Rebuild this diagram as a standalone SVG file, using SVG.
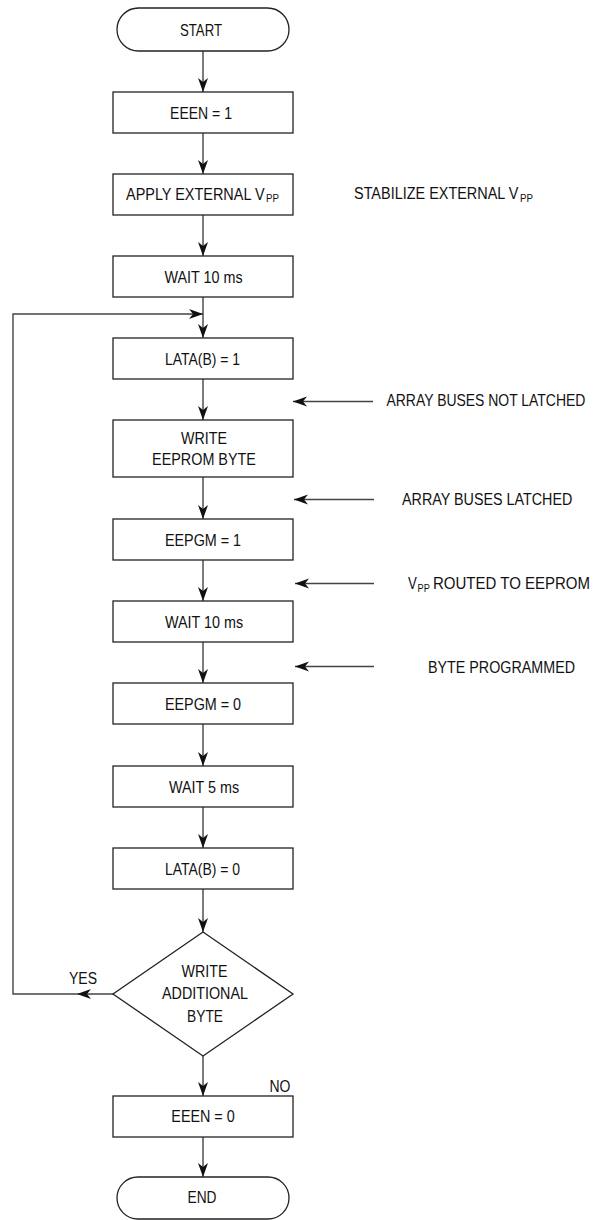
<svg xmlns="http://www.w3.org/2000/svg" width="594" height="1220" viewBox="0 0 594 1220">
<style>
.box{fill:#fff;stroke:#222;stroke-width:1.3}
.ln{fill:none;stroke:#444;stroke-width:1.4}
.t{font-family:"Liberation Sans",Arial,sans-serif;font-size:16.5px;fill:#111}
.m{text-anchor:middle}
.s{font-family:"Liberation Sans",Arial,sans-serif;font-size:11.5px;fill:#111}
</style>
<defs>
<marker id="ah" viewBox="-14 -6 15 12" markerWidth="15" markerHeight="12" refX="0" refY="0" markerUnits="userSpaceOnUse" orient="auto">
<path d="M0,0 L-14,-5 L-10,0 L-14,5 Z" fill="#111"/>
</marker>
</defs>
<rect width="594" height="1220" fill="#fff"/>

<g id="connectors">
<line class="ln" x1="203" y1="51" x2="203" y2="92" marker-end="url(#ah)"/>
<line class="ln" x1="203" y1="133" x2="203" y2="174" marker-end="url(#ah)"/>
<line class="ln" x1="203" y1="215" x2="203" y2="256" marker-end="url(#ah)"/>
<line class="ln" x1="203" y1="297" x2="203" y2="338" marker-end="url(#ah)"/>
<line class="ln" x1="203" y1="379" x2="203" y2="420" marker-end="url(#ah)"/>
<line class="ln" x1="203" y1="477" x2="203" y2="519" marker-end="url(#ah)"/>
<line class="ln" x1="203" y1="560" x2="203" y2="601" marker-end="url(#ah)"/>
<line class="ln" x1="203" y1="642" x2="203" y2="683" marker-end="url(#ah)"/>
<line class="ln" x1="203" y1="724" x2="203" y2="766" marker-end="url(#ah)"/>
<line class="ln" x1="203" y1="807" x2="203" y2="848" marker-end="url(#ah)"/>
<line class="ln" x1="203" y1="889" x2="203" y2="932" marker-end="url(#ah)"/>
<line class="ln" x1="203" y1="1056" x2="203" y2="1096" marker-end="url(#ah)"/>
<line class="ln" x1="203" y1="1137" x2="203" y2="1177" marker-end="url(#ah)"/>
<line class="ln" x1="113" y1="994" x2="77" y2="994" marker-end="url(#ah)"/>
<path class="ln" d="M77,994 L13,994 L13,314 L203,314" marker-end="url(#ah)"/>
<line class="ln" x1="373" y1="401.5" x2="293" y2="401.5" marker-end="url(#ah)"/>
<line class="ln" x1="374" y1="499.5" x2="294" y2="499.5" marker-end="url(#ah)"/>
<line class="ln" x1="374" y1="583.5" x2="295" y2="583.5" marker-end="url(#ah)"/>
<line class="ln" x1="374" y1="666.5" x2="295" y2="666.5" marker-end="url(#ah)"/>
</g>

<g id="start">
<rect class="box" x="117" y="8" width="172" height="43" rx="21.5"/>
<text class="t m" transform="translate(201,35.5) scale(0.8,1)">START</text>
</g>
<g id="een1">
<rect class="box" x="113" y="92" width="180" height="41"/>
<text class="t m" transform="translate(201,118.5) scale(0.85,1)">EEEN = 1</text>
</g>
<g id="apply">
<rect class="box" x="113" y="174" width="180" height="41"/>
<text class="t" transform="translate(126,199.5) scale(0.875,1)">APPLY EXTERNAL V</text>
<text class="s" transform="translate(266,202) scale(0.85,1)">PP</text>
</g>
<g id="wait1">
<rect class="box" x="113" y="256" width="180" height="41"/>
<text class="t m" transform="translate(203.5,282.5) scale(0.87,1)">WAIT 10 ms</text>
</g>
<g id="lata1">
<rect class="box" x="113" y="338" width="180" height="41"/>
<text class="t m" transform="translate(202.5,364.5) scale(0.845,1)">LATA(B) = 1</text>
</g>
<g id="write">
<rect class="box" x="113" y="420" width="180" height="57"/>
<text class="t m" transform="translate(204,443.5) scale(0.865,1)">WRITE</text>
<text class="t m" transform="translate(204,464.5) scale(0.872,1)">EEPROM BYTE</text>
</g>
<g id="eepgm1">
<rect class="box" x="113" y="519" width="180" height="41"/>
<text class="t m" transform="translate(203,545.5) scale(0.87,1)">EEPGM = 1</text>
</g>
<g id="wait2">
<rect class="box" x="113" y="601" width="180" height="41"/>
<text class="t m" transform="translate(204,627.5) scale(0.87,1)">WAIT 10 ms</text>
</g>
<g id="eepgm0">
<rect class="box" x="113" y="683" width="180" height="41"/>
<text class="t m" transform="translate(203,709.5) scale(0.87,1)">EEPGM = 0</text>
</g>
<g id="wait3">
<rect class="box" x="113" y="766" width="180" height="41"/>
<text class="t m" transform="translate(204,792.5) scale(0.87,1)">WAIT 5 ms</text>
</g>
<g id="lata0">
<rect class="box" x="113" y="848" width="180" height="41"/>
<text class="t m" transform="translate(202.5,874.5) scale(0.845,1)">LATA(B) = 0</text>
</g>
<g id="decision">
<polygon class="box" points="203,932 293,994 203,1056 113,994"/>
<text class="t m" transform="translate(204.5,976.5) scale(0.865,1)">WRITE</text>
<text class="t m" transform="translate(205,999) scale(0.869,1)">ADDITIONAL</text>
<text class="t m" transform="translate(205,1021.5) scale(0.835,1)">BYTE</text>
<text class="t" transform="translate(69,983.5) scale(0.848,1)">YES</text>
<text class="t" transform="translate(269.5,1091.5) scale(0.848,1)">NO</text>
</g>
<g id="een0">
<rect class="box" x="113" y="1096" width="180" height="41"/>
<text class="t m" transform="translate(203,1121.5) scale(0.87,1)">EEEN = 0</text>
</g>
<g id="end">
<rect class="box" x="117" y="1177" width="172" height="42" rx="21"/>
<text class="t m" transform="translate(202,1203) scale(0.833,1)">END</text>
</g>

<g id="notes">
<text class="t" transform="translate(354,199) scale(0.875,1)">STABILIZE EXTERNAL V</text>
<text class="s" transform="translate(520,201.5) scale(0.85,1)">PP</text>
<text class="t" transform="translate(386.5,406) scale(0.846,1)">ARRAY BUSES NOT LATCHED</text>
<text class="t" transform="translate(402,505) scale(0.869,1)">ARRAY BUSES LATCHED</text>
<text class="t" transform="translate(408,589) scale(0.8,1)">V</text>
<text class="s" transform="translate(417.5,591.5) scale(0.8,1)">PP</text>
<text class="t" transform="translate(433,589) scale(0.91,1)">ROUTED TO EEPROM</text>
<text class="t" transform="translate(428,672.5) scale(0.867,1)">BYTE PROGRAMMED</text>
</g>
</svg>
